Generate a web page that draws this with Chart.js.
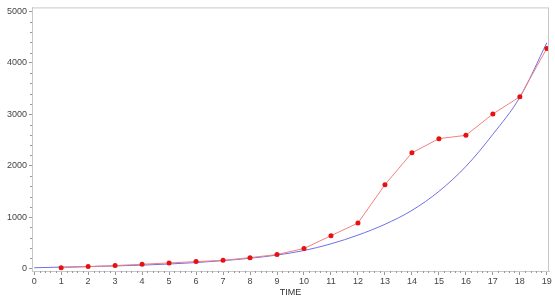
<!DOCTYPE html>
<html>
<head>
<meta charset="utf-8">
<script src="https://cdn.jsdelivr.net/npm/chart.js@4/dist/chart.umd.min.js"></script>
<style>
  html, body { margin: 0; padding: 0; background: #fff; }
  #wrap { width: 555px; height: 299px; }
</style>
</head>
<body>
<div id="wrap"><canvas id="myChart"></canvas></div>
<script>
// values
var time = [0, 1, 2, 3, 4, 5, 6, 7, 8, 9, 10, 11, 12, 13, 14, 15, 16, 17, 18, 19];
var observed = [null, 13, 38, 58, 83, 109, 135, 160, 212, 272, 390, 638, 885, 1630, 2250, 2525, 2590, 3005, 3340, 4280];
var fitted = [15, 28, 38, 50, 66, 88, 116, 153, 200, 262, 350, 480, 650, 860, 1130, 1500, 1985, 2610, 3330, 4390];
var xTicks = [0, 1, 2, 3, 4, 5, 6, 7, 8, 9, 10, 11, 12, 13, 14, 15, 16, 17, 18, 19];
var yTicks = [0, 1000, 2000, 3000, 4000, 5000];

function points(ys) {
    var out = [];
    for (var i = 0; i < time.length; i++) {
        if (ys[i] !== null) out.push({ x: time[i], y: ys[i] });
    }
    return out;
}

// frame box + minor ticks
var framePlugin = {
    id: 'frame',
    afterDraw: function (chart) {
        var c = chart.ctx, a = chart.chartArea;
        var xs = chart.scales.x, ys = chart.scales.y;
        c.save();
        c.strokeStyle = '#c8c8c8';
        c.lineWidth = 1;
        c.strokeRect(a.left + 0.5, a.top + 0.5, a.right - a.left - 1, a.bottom - a.top);
        c.strokeStyle = '#999';
        c.beginPath();
        for (var t = 0; t < 19; t++) {
            for (var k = 1; k < 5; k++) {
                var px = Math.round(xs.getPixelForValue(t + k / 5)) + 0.5;
                c.moveTo(px, a.bottom);
                c.lineTo(px, a.bottom + 2);
            }
        }
        for (var v = 0; v < 5000; v += 1000) {
            for (var m = 1; m < 5; m++) {
                var py = Math.round(ys.getPixelForValue(v + m * 200)) + 0.5;
                c.moveTo(a.left, py);
                c.lineTo(a.left - 2, py);
            }
        }
        c.stroke();
        c.restore();
    }
};

var ctx = document.getElementById('myChart').getContext('2d');
Chart.defaults.font.family = '"Liberation Sans", Arial, sans-serif';
Chart.defaults.font.size = 9;
Chart.defaults.color = '#444';

var myChart = new Chart(ctx, {
    type: 'scatter',
    data: {
        datasets: [{
            label: 'fitted',
            data: points(fitted),
            showLine: true,
            borderColor: '#6f6fe6',
            borderWidth: 1,
            pointRadius: 0,
            cubicInterpolationMode: 'monotone',
            order: 1
        }, {
            label: 'observed',
            data: points(observed),
            showLine: true,
            borderColor: '#f28080',
            borderWidth: 1,
            pointRadius: 2.5,
            pointBackgroundColor: '#e81010',
            pointBorderColor: '#e81010',
            pointBorderWidth: 0,
            order: 0
        }]
    },
    options: {
        responsive: true,
        maintainAspectRatio: false,
        animation: false,
        layout: { padding: { top: 5, right: 6, left: 0, bottom: 0 } },
        plugins: {
            legend: { display: false },
            tooltip: { enabled: false }
        },
        scales: {
            x: {
                type: 'linear',
                min: -0.08,
                max: 19.08,
                afterBuildTicks: function (s) { s.ticks = xTicks.map(function (v) { return { value: v }; }); },
                afterFit: function (s) { s.height = 28; },
                grid: { drawOnChartArea: false, tickLength: 4, tickColor: '#999' },
                border: { color: '#c8c8c8' },
                ticks: {
                    padding: 1, maxRotation: 0, autoSkip: false, color: '#444',
                    callback: function (v) { return String(v); }
                },
                title: { display: true, text: 'TIME', padding: { top: 0, bottom: 1 }, color: '#333' }
            },
            y: {
                min: -48,
                max: 5077,
                afterBuildTicks: function (s) { s.ticks = yTicks.map(function (v) { return { value: v }; }); },
                afterFit: function (s) { s.width = 32; },
                grid: { drawOnChartArea: false, tickLength: 3, tickColor: '#999' },
                border: { color: '#c8c8c8' },
                ticks: {
                    padding: 2, color: '#444',
                    callback: function (v) { return String(v); }
                }
            }
        }
    },
    plugins: [framePlugin]
});
</script>
</body>
</html>
